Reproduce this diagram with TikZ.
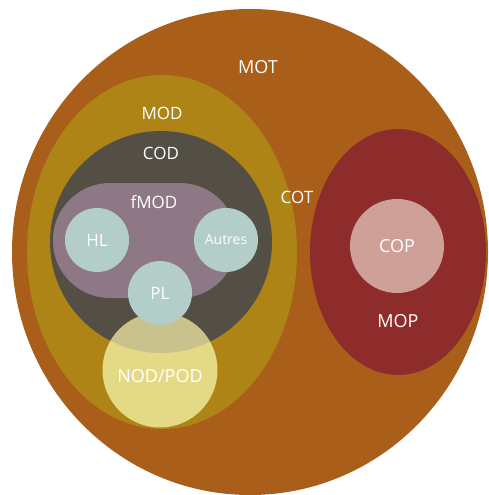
\documentclass[tikz,border=0pt]{standalone}
\usepackage{fontspec}
\setmainfont{Open Sans}
\definecolor{motc}{HTML}{A95F1A}
\definecolor{modc}{HTML}{AE8416}
\definecolor{codc}{HTML}{544F45}
\definecolor{fmodc}{HTML}{8E7886}
\definecolor{smallc}{HTML}{B3CDC9}
\definecolor{mopc}{HTML}{8E2B2B}
\definecolor{copc}{HTML}{CFA097}
\definecolor{nodc}{HTML}{E4DA86}
\definecolor{ovlc}{HTML}{C9C28C}
\tikzset{
  lbl/.style={text=white, font=\fontsize{17}{20}\selectfont, inner sep=0pt},
  bubble/.style={circle, fill=smallc, minimum size=64pt, inner sep=0pt, text=white, font=\fontsize{17}{20}\selectfont},
}
\begin{document}
\begin{tikzpicture}[x=1pt,y=-1pt]
\useasboundingbox (0,0) rectangle (488,495);
\fill[white] (0,0) rectangle (488,495);
\clip (0,0) rectangle (488,495);
% MOT
\fill[motc] (250,252) ellipse [x radius=238, y radius=243];
% MOD
\fill[modc] (162,252) ellipse [x radius=135, y radius=177];
% COD
\fill[codc] (161,242) circle [radius=111];
% NOD/POD
\fill[nodc] (160,370) circle [radius=57.5];
\begin{scope}
  \clip (161,242) circle [radius=111];
  \fill[ovlc] (160,370) circle [radius=57.5];
\end{scope}
% fMOD
\fill[fmodc, rounded corners=57] (53,183) rectangle (237,298);
% MOP
\fill[mopc] (398,252) ellipse [x radius=88, y radius=123];
% small bubbles
\node[bubble] (hl) at (97,240) {HL};
\node[bubble, font=\fontsize{14}{16}\selectfont] (autres) at (226,240) {Autres};
\node[bubble] (pl) at (160,293) {PL};
\node[circle, fill=copc, minimum size=94pt, inner sep=0pt, text=white, font=\fontsize{18}{20}\selectfont] (cop) at (397,246) {COP};
% labels
\node[lbl, font=\fontsize{18}{20}\selectfont] (mot) at (258,67) {MOT};
\node[lbl] (mod) at (162,113) {MOD};
\node[lbl] (cod) at (161,153) {COD};
\node[lbl] (fmod) at (154,202) {fMOD};
\node[lbl] (cot) at (297,197) {COT};
\node[lbl, font=\fontsize{18}{20}\selectfont] (mop) at (398,321) {MOP};
\node[lbl, font=\fontsize{18}{20}\selectfont] (nod) at (160,376) {NOD/POD};
\end{tikzpicture}
\end{document}
